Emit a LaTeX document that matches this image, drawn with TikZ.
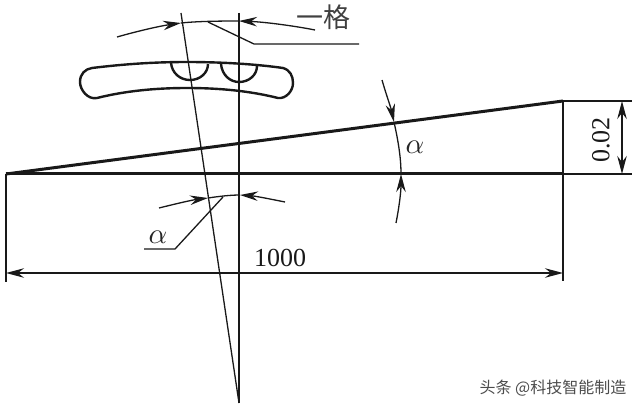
\documentclass[tikz,border=0pt]{standalone}
\usepackage{fontspec}
\setmainfont{Liberation Serif}
\newfontfamily\cjk{Noto Sans CJK SC}
\usetikzlibrary{arrows.meta}
\tikzset{
  heavy/.style={line width=3pt,black!90},
  medium/.style={line width=2pt,black!90},
  thin line/.style={line width=1.3pt,black!90},
  dimarrow/.style={line width=1.3pt,black!90,-{Stealth[length=18pt,width=9.5pt,inset=6pt]}},
  dimboth/.style={line width=1.3pt,black!90,{Stealth[length=18pt,width=9.5pt,inset=6pt]}-{Stealth[length=18pt,width=9.5pt,inset=6pt]}},
  lbl/.style={font=\fontsize{26}{26}\selectfont,inner sep=0pt,black!90},
  greek/.style={inner sep=0pt,black!85,scale=2.9},
  mark text/.style={font=\cjk\fontsize{16}{16}\selectfont,inner sep=0pt,black!70}
}
\begin{document}
\begin{tikzpicture}[x=1pt,y=-1pt]
\useasboundingbox (0,0) rectangle (640,409);
\coordinate (O) at (6,174);
\coordinate (A) at (563,174);
\coordinate (B) at (563,101);
% wedge
\draw[heavy] (O) -- (A);
\draw[heavy] (O) -- (B);
\draw[medium] (A) -- (B);
% extension lines
\draw[thin line] (B) -- (632,101);
\draw[thin line] (A) -- (632,174);
\draw[thin line] (A) -- (563,281);
\draw[thin line] (O) -- (6,282);
% dimensions
\coordinate (D1) at (622,101);
\coordinate (D2) at (622,174);
\draw[dimboth] (D1) -- (D2);
\coordinate (E1) at (6,273);
\coordinate (E2) at (563,273);
\draw[dimboth] (E1) -- (E2);
\node[lbl] (n1000) at (280,258) {1000};
\node[lbl,rotate=90] (n002) at (601,140) {0.02};
% needle positions
\draw[thin line] (239,13) -- (239,403);
\draw[thin line] (181,13) -- (239,403);
% bubble
\draw[line width=2.4pt,black!90,line join=round] (92,68)
  .. controls (125,64) and (155,62) .. (187,62)
  .. controls (220,62) and (255,64) .. (283,68)
  .. controls (290,70) and (293,76) .. (293,83)
  .. controls (293,91) and (286,99) .. (278,98)
  .. controls (250,91) and (220,88) .. (187,88)
  .. controls (155,88) and (125,91) .. (97,98)
  .. controls (88,100) and (80,90) .. (80,82)
  .. controls (80,74) and (85,69) .. (92,68) -- cycle;
\draw[line width=2.4pt,black!90] (171,63) .. controls (172,73) and (180,80) .. (190,80)
  .. controls (200,80) and (208,73) .. (208,64);
\draw[line width=2.4pt,black!90] (221,64) .. controls (222,75) and (230,82) .. (239,82)
  .. controls (249,82) and (257,75) .. (257,66);
% top arc
\coordinate (T0) at (117,37);
\coordinate (T1) at (181,23);
\coordinate (T2) at (239,21);
\coordinate (T3) at (315,30);
\draw[dimarrow] (T0) .. controls (138,31) and (160,26) .. (T1);
\draw[thin line] (T1) .. controls (195,21.5) and (215,21) .. (T2);
\draw[dimarrow] (T3) .. controls (295,26) and (265,22) .. (T2);
\coordinate (L1) at (208,22);
\coordinate (L2) at (254,44);
\coordinate (L3) at (359,44);
\draw[thin line] (L1) -- (L2) -- (L3);
\node[lbl,font=\cjk\fontsize{27}{27}\selectfont,black!75] (ge) at (323,17) {一格};
% lower arc
\coordinate (U0) at (159,208);
\coordinate (U1) at (208,198);
\coordinate (U2) at (240,195);
\coordinate (U3) at (285,202);
\draw[dimarrow] (U0) .. controls (175,204) and (192,200) .. (U1);
\draw[thin line] (U1) .. controls (218,196.5) and (230,195) .. (U2);
\draw[dimarrow] (U3) .. controls (270,199) and (255,196) .. (U2);
\coordinate (V1) at (223,197);
\coordinate (V2) at (175,249);
\coordinate (V3) at (144,249);
\draw[thin line] (V1) -- (V2) -- (V3);
\node[greek] (a1) at (158,237) {$\alpha$};
% right arc
\coordinate (R0) at (382,80);
\coordinate (R1) at (394,122);
\coordinate (R2) at (401,174);
\coordinate (R3) at (396,223);
\draw[dimarrow] (R0) .. controls (386,94) and (391,108) .. (R1);
\draw[thin line] (R1) .. controls (398,140) and (401,157) .. (R2);
\draw[dimarrow] (R3) .. controls (399,208) and (401,192) .. (R2);
\node[greek] (a2) at (415,147) {$\alpha$};
% watermark
\node[mark text] (wm) at (553,388) {头条 @科技智能制造};
\end{tikzpicture}
\end{document}
